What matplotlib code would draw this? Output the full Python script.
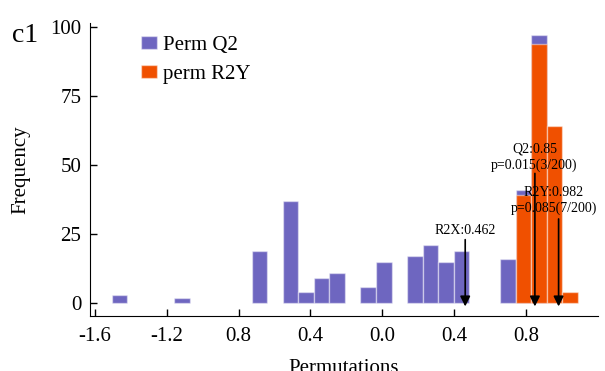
import matplotlib
matplotlib.use('Agg')
import matplotlib.pyplot as plt

## permutation histogram (bin centres and counts)
q2_x = [-1.462, -1.116, -0.683, -0.510, -0.424, -0.337, -0.251, -0.078, 0.009,
        0.182, 0.268, 0.355, 0.441, 0.701, 0.787, 0.874]
q2_counts = [3, 2, 19, 37, 4, 9, 11, 6, 15, 17, 21, 15, 19, 16, 41, 97]
r2y_x = [0.787, 0.874, 0.960, 1.047]
r2y_counts = [39, 94, 64, 4]
bin_width = 0.0865

## x tick labels exactly as printed on the chart
tick_pos = [-1.6, -1.2, -0.8, -0.4, 0.0, 0.4, 0.8]
tick_labels = ['-1.6', '-1.2', '0.8', '0.4', '0.0', '0.4', '0.8']
y_ticks = [0, 25, 50, 75, 100]

## arrow markers: x value, arrow top, text, text y
marks = [
    (0.462, 23, 'R2X:0.462', 24),
    (0.85, 47, 'Q2:0.85\np=0.015(3/200)', 47.5),
    (0.982, 30.5, 'R2Y:0.982\np=0.085(7/200)', 32),
]
mark_text_x = [0.462, 0.848, 0.955]

plt.rcParams['font.family'] = ['Liberation Serif', 'DejaVu Serif']

fig = plt.figure(figsize=(6.05, 3.71), dpi=100)
ax = fig.add_axes([0.148, 0.148, 0.840, 0.790])

edge = (1, 1, 1, 0.45)
ax.bar(q2_x, q2_counts, width=bin_width, color='#6e66c0', edgecolor=edge,
       linewidth=1, label='Perm Q2')
ax.bar(r2y_x, r2y_counts, width=bin_width, color='#f05000', edgecolor=edge,
       linewidth=1, label='perm R2Y')

for (x, top, txt, ty), tx in zip(marks, mark_text_x):
    ax.annotate('', xy=(x, -1.2), xytext=(x, top),
                arrowprops=dict(arrowstyle='-|>', color='black', lw=1.2,
                                mutation_scale=15, shrinkA=0, shrinkB=0))
    ax.text(tx, ty, txt, ha='center', va='bottom', fontsize=10,
            linespacing=1.25)

ax.set_xlim(-1.63, 1.2)
ax.set_ylim(-4.7, 101.5)
ax.set_xticks(tick_pos)
ax.set_xticklabels(tick_labels)
ax.set_yticks(y_ticks)
ax.tick_params(direction='in', length=5, width=1, labelsize=15)
ax.tick_params(axis='x', pad=8)
ax.tick_params(axis='y', pad=6)
ax.spines['top'].set_visible(False)
ax.spines['right'].set_visible(False)
ax.set_xlabel('Permutations', fontsize=15, labelpad=9)
ax.set_ylabel('Frequency', fontsize=15, labelpad=14)

ax.legend(loc='upper left', bbox_to_anchor=(0.233, 0.904),
          bbox_transform=fig.transFigure, frameon=False,
          fontsize=15, handlelength=0.75, handleheight=0.55, handletextpad=0.3,
          labelspacing=0.5, borderpad=0, borderaxespad=0)

fig.text(0.02, 0.887, 'c1', fontsize=20, va='baseline')

plt.savefig('out.png', dpi=100)
